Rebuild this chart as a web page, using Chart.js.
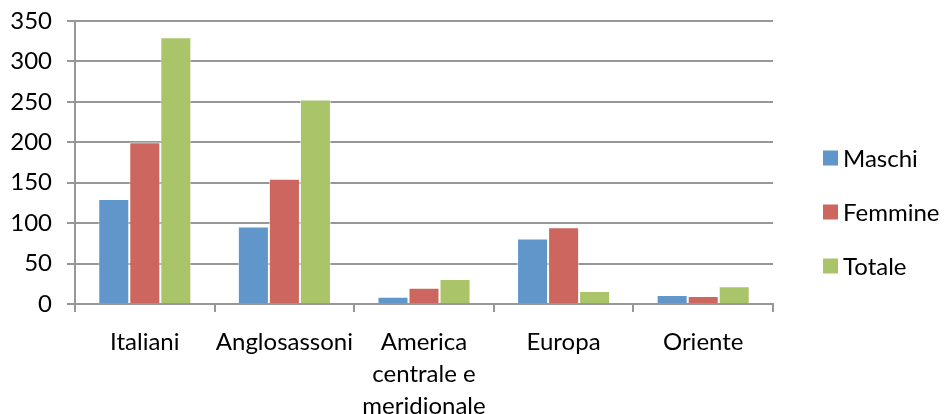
<!DOCTYPE html>
<html>
<head>
<meta charset="utf-8">
<script src="https://cdn.jsdelivr.net/npm/chart.js@4/dist/chart.umd.min.js"></script>
<style>
  html, body { margin: 0; padding: 0; background: #fff; }
  #wrap { width: 946px; height: 414px; }
</style>
</head>
<body>
<div id="wrap"><canvas id="c" width="946" height="414"></canvas></div>
<script>
// Categories (multi-line label for the long one)
const categories = ['Italiani', 'Anglosassoni', ['America', 'centrale e', 'meridionale'], 'Europa', 'Oriente'];

// Series values
const maschi  = [130, 96, 9, 81, 11];
const femmine = [200, 155, 20, 95, 10];
const totale  = [330, 253, 31, 16, 22];

// Y axis ticks
const yTicks = [0, 50, 100, 150, 200, 250, 300, 350];

const seriesNames = ['Maschi', 'Femmine', 'Totale'];
const seriesColors = ['#6096c9', '#cc665e', '#aac46a'];
const FONT = 'Lato, "Liberation Sans", sans-serif';
const FSIZE = 24;
const GRID = '#979797';
const TEXT = '#000';

// Legend drawn on the right, one entry per dataset
const sideLegend = {
  id: 'sideLegend',
  afterDraw(chart) {
    const ctx = chart.ctx;
    ctx.save();
    ctx.font = FSIZE + 'px ' + FONT;
    ctx.textBaseline = 'middle';
    ctx.textAlign = 'left';
    const x0 = 823, yStart = 158, step = 54;
    chart.data.datasets.forEach((ds, i) => {
      const y = yStart + i * step;
      ctx.fillStyle = ds.backgroundColor;
      ctx.fillRect(x0, y - 7.5, 15, 15);
      ctx.fillStyle = TEXT;
      ctx.fillText(ds.label, x0 + 20, y + 1);
    });
    ctx.restore();
  }
};

const datasets = [maschi, femmine, totale].map((vals, i) => ({
  label: seriesNames[i],
  data: vals,
  backgroundColor: seriesColors[i],
  borderColor: 'rgba(255,255,255,0.55)',
  borderWidth: 1,
  categoryPercentage: 3 / 4.5,
  barPercentage: 1.0
}));

new Chart(document.getElementById('c'), {
  type: 'bar',
  data: { labels: categories, datasets },
  plugins: [sideLegend],
  options: {
    responsive: false,
    animation: false,
    layout: { padding: { top: 21, right: 173, left: 0, bottom: 0 } },
    plugins: { legend: { display: false }, tooltip: { enabled: false } },
    scales: {
      x: {
        afterFit(scale) { scale.height = 110; },
        grid: {
          offset: true,
          drawOnChartArea: false,
          drawTicks: true,
          tickLength: 8,
          color: GRID,
          lineWidth: 2
        },
        border: { display: true, color: GRID, width: 2 },
        ticks: {
          color: TEXT,
          font: { family: FONT, size: FSIZE, lineHeight: 1.33 },
          padding: 14,
          maxRotation: 0,
          autoSkip: false
        }
      },
      y: {
        min: 0,
        max: 350,
        afterFit(scale) {
          scale.width = 75;
          scale.paddingTop = 0;
          scale.paddingBottom = 0;
        },
        afterBuildTicks(scale) { scale.ticks = yTicks.map(v => ({ value: v })); },
        grid: {
          color: GRID,
          lineWidth: 2,
          tickLength: 8,
          drawTicks: true
        },
        border: { display: true, color: GRID, width: 2 },
        ticks: {
          color: TEXT,
          font: { family: FONT, size: FSIZE },
          padding: 15
        }
      }
    }
  }
});
</script>
</body>
</html>
